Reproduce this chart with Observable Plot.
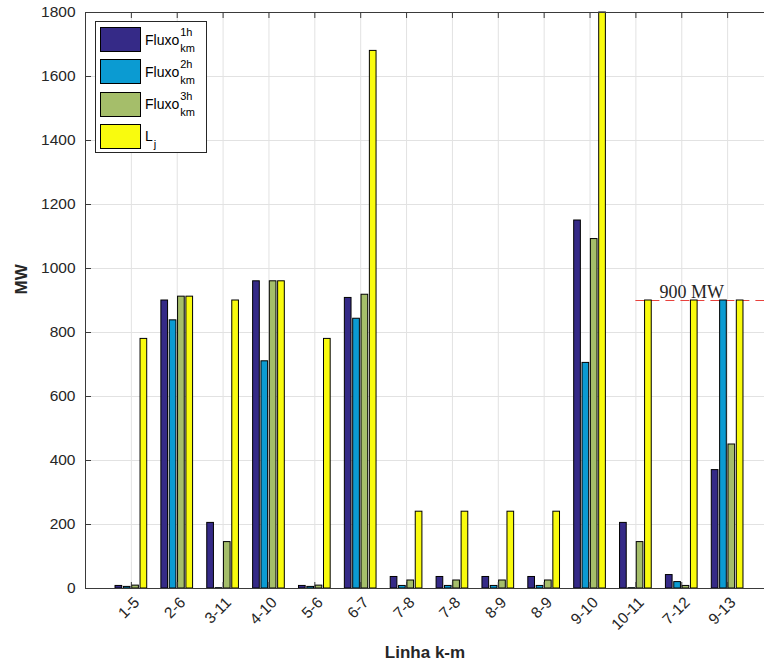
<!DOCTYPE html>
<html>
<head>
<meta charset="utf-8">
<script src="https://cdn.jsdelivr.net/npm/d3@7"></script>
<script src="https://cdn.jsdelivr.net/npm/@observablehq/plot@0.6"></script>
<style>
  body { margin: 0; background: #fff; font-family: "Liberation Sans", Arial, sans-serif; }
  #wrap { position: relative; width: 764px; height: 671px; overflow: hidden; background: #fff; }
  #legend { position: absolute; left: 95px; top: 21px; width: 112px; height: 132px; border: 1px solid #262626;
            background: #fff; box-sizing: border-box; }
  .row { position: absolute; left: 4px; height: 25px; display: flex; align-items: center; }
  .sw { width: 41px; height: 25px; border: 1px solid #000; box-sizing: border-box; flex: none; }
  .lab { margin-left: 4px; font-size: 14px; color: #000; display: flex; align-items: center; line-height: 1; }
  .ss { display: inline-flex; flex-direction: column; font-size: 11px; line-height: 12px; margin-left: 1px; color: #000; }
  .ss .sup { transform: translateY(-2px); }
  .ss .sub { transform: translateY(2px); }
  .sub1 { font-size: 11px; color: #000; transform: translateY(8px); margin-left: 1px; }
</style>
</head>
<body>
<div id="wrap">
  <div id="chart"></div>
  <div id="legend"></div>
</div>
<script>
// ---- data ----
const categories = ["1-5", "2-6", "3-11", "4-10", "5-6", "6-7", "7-8", "7-8", "8-9", "8-9", "9-10", "10-11", "7-12", "9-13"];
const fluxo1h = [8, 900, 205, 960, 8, 908, 36, 36, 36, 36, 1150, 205, 42, 370];
const fluxo2h = [5, 838, 1, 710, 5, 843, 8, 8, 8, 8, 705, 1, 20, 900];
const fluxo3h = [9, 912, 145, 960, 9, 918, 25, 25, 25, 25, 1092, 145, 8, 450];
const lj      = [780, 912, 900, 960, 780, 1680, 240, 240, 240, 240, 1800, 900, 900, 900];
const seriesNames = ["Fluxo 1h", "Fluxo 2h", "Fluxo 3h", "Lj"];
const seriesColors = ["#352A87", "#0B9BD2", "#A5BE6A", "#F9FB0E"];
const yTicks = [0, 200, 400, 600, 800, 1000, 1200, 1400, 1600, 1800];
const limitValue = 900;
const limitLabel = "900 MW";
const limitFrom = 12;
const limitLabelAt = 13.22;
const xLabel = "Linha k-m";
const yLabel = "MW";

// ---- build table ----
const series = [fluxo1h, fluxo2h, fluxo3h, lj];
const groups = categories.map((c, i) => i + 1);
const rows = [];
categories.forEach((c, i) => series.forEach((s, j) => rows.push({g: i + 1, j, name: seriesNames[j], value: s[i]})));
const nS = series.length;
const groupWidth = Math.min(0.8, nS / (nS + 1.5));
const step = groupWidth / nS;
const bw = step * 0.8;
const cx = d => d.g + (d.j - (nS - 1) / 2) * step;

const axisColor = "#3a3a3a";
const textColor = "#262626";
const gridColor = "#e2e2e2";

const plot = Plot.plot({
  width: 764,
  height: 671,
  marginLeft: 85,
  marginRight: 0,
  marginTop: 12,
  marginBottom: 83,
  style: {fontFamily: "'Liberation Sans', Arial, sans-serif", background: "#fff", overflow: "hidden"},
  x: {type: "linear", domain: [0, 15], range: [85, 773], axis: null},
  y: {domain: [0, 1800], axis: null},
  color: {domain: seriesNames, range: seriesColors},
  marks: [
    // grid
    Plot.ruleY(yTicks, {stroke: gridColor, strokeWidth: 1}),
    Plot.ruleX(groups, {stroke: gridColor, strokeWidth: 1}),
    // limit line
    Plot.ruleY([limitValue], {x1: limitFrom, x2: 15, stroke: "#e8413c", strokeWidth: 1, strokeDasharray: "9,6"}),
    // bars
    Plot.rect(rows, {
      x1: d => cx(d) - bw / 2,
      x2: d => cx(d) + bw / 2,
      y1: 0,
      y2: "value",
      fill: "name",
      stroke: "#000",
      strokeWidth: 1
    }),
    // box
    Plot.ruleY([0, 1800], {stroke: axisColor, strokeWidth: 1}),
    Plot.ruleX([0], {stroke: axisColor, strokeWidth: 1}),
    // ticks (inward)
    Plot.ruleY(yTicks, {x1: 0, x2: 0, insetRight: -6, stroke: axisColor}),
    Plot.ruleX(groups, {y1: 0, y2: 0, insetTop: -6, stroke: axisColor}),
    Plot.ruleX(groups, {y1: 1800, y2: 1800, insetBottom: -6, stroke: axisColor}),
    // tick labels
    Plot.text(yTicks, {y: d => d, text: d => String(d), frameAnchor: "left", textAnchor: "end", dx: -10, fontSize: 15.5, fill: textColor}),
    Plot.text(groups, {x: d => d, text: d => categories[d - 1], frameAnchor: "bottom", rotate: -45, textAnchor: "end", dx: 9, dy: 15, fontSize: 15.5, fill: textColor}),
    // axis labels
    Plot.text([xLabel], {text: d => d, frameAnchor: "bottom", dy: 69, fontSize: 17, fontWeight: "bold", fill: textColor}),
    Plot.text([yLabel], {text: d => d, frameAnchor: "left", rotate: -90, dx: -64, dy: -6, fontSize: 17, fontWeight: "bold", fill: textColor}),
    // annotation
    Plot.text([limitValue], {x: limitLabelAt, y: d => d, text: () => limitLabel, lineAnchor: "bottom", dy: -3, fontFamily: "'Liberation Serif', 'Times New Roman', serif", fontSize: 18, fill: "#262626"})
  ]
});
document.getElementById("chart").appendChild(plot);

// ---- legend ----
const legend = document.getElementById("legend");
const sups = ["1h", "2h", "3h"];
seriesNames.forEach((name, j) => {
  const row = document.createElement("div");
  row.className = "row";
  row.style.top = (5 + j * 32.3) + "px";
  const sw = document.createElement("div");
  sw.className = "sw";
  sw.style.background = seriesColors[j];
  row.appendChild(sw);
  const lab = document.createElement("span");
  lab.className = "lab";
  if (j < 3) {
    lab.innerHTML = `Fluxo<span class="ss"><span class="sup">${sups[j]}</span><span class="sub">km</span></span>`;
  } else {
    lab.innerHTML = `L<span class="sub1">j</span>`;
  }
  row.appendChild(lab);
  legend.appendChild(row);
});
</script>
</body>
</html>
